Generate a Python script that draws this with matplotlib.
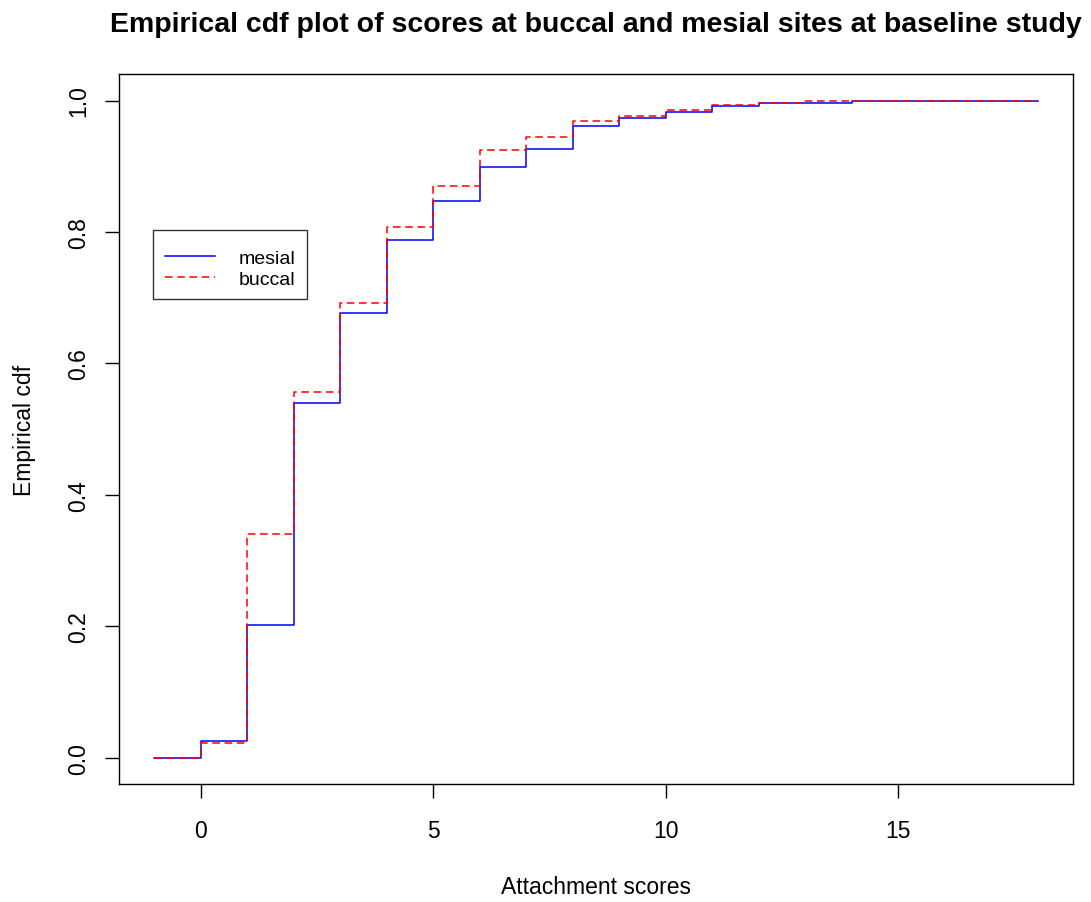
import numpy as np
import matplotlib
matplotlib.use("Agg")
import matplotlib.pyplot as plt

plt.rcParams['font.family'] = ['Liberation Sans', 'DejaVu Sans']

# knots of the empirical cdf (scores) and the level right after each knot
scores = [-1, 0, 1, 2, 3, 4, 5, 6, 7, 8, 9, 10, 11, 12, 13, 14, 15, 18]
mesial = [0.0, 0.025, 0.202, 0.539, 0.677, 0.788, 0.847, 0.899, 0.926,
          0.961, 0.974, 0.982, 0.991, 0.9965, 0.9965, 0.999, 1.0, 1.0]
buccal = [0.0, 0.023, 0.341, 0.557, 0.6925, 0.808, 0.870, 0.924, 0.945,
          0.969, 0.976, 0.985, 0.993, 0.9965, 0.999, 0.999, 1.0, 1.0]

fig = plt.figure(figsize=(10.91, 9.03), dpi=100)
# box: x 119..1073 px, y 75..785 px
ax = fig.add_axes([0.109, 0.1307, 0.8745, 0.786])

ax.step(scores, mesial, where='post', color='blue', lw=1.1, label='mesial')
ax.step(scores, buccal, where='post', color='red', lw=1.1,
        linestyle=(0, (5, 3)), label='buccal')

ax.set_xlim(-1.76, 18.76)
ax.set_ylim(-0.04, 1.04)
ax.set_xticks([0, 5, 10, 15])
ax.set_yticks([0.0, 0.2, 0.4, 0.6, 0.8, 1.0])
ax.set_yticklabels(['0.0', '0.2', '0.4', '0.6', '0.8', '1.0'], rotation=90, va='center')
ax.tick_params(axis='both', labelsize=16.5, length=10, width=1, direction='out')
ax.tick_params(axis='x', pad=15)
ax.tick_params(axis='y', pad=11)
for s in ax.spines.values():
    s.set_linewidth(1)

ax.set_xlabel('Attachment scores', fontsize=16.5, labelpad=24)
ax.set_ylabel('Empirical cdf', fontsize=16.5, labelpad=22)
ax.set_title('Empirical cdf plot of scores at buccal and mesial sites at baseline study',
             fontsize=20.5, fontweight='bold', pad=31)

# tiny blank legend title pushes the entries down like R's legend box
leg = ax.legend(loc='upper left', bbox_to_anchor=(0.0356, 0.7803), borderaxespad=0,
                fontsize=14, frameon=True, fancybox=False, edgecolor='black',
                handlelength=2.6, handletextpad=1.2, labelspacing=0.17,
                borderpad=0.6, title=' ', title_fontsize=3)
leg.get_frame().set_linewidth(1)

fig.savefig('out.png', dpi=100)
